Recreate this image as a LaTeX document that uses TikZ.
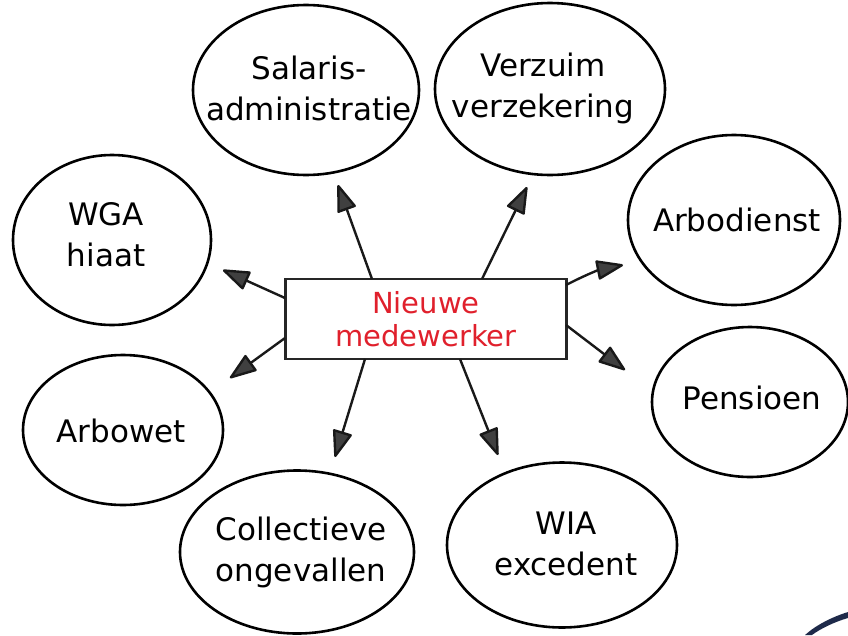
\documentclass[tikz,border=0pt]{standalone}
\usepackage{fontspec}
\setmainfont{DejaVu Sans}
\usetikzlibrary{shapes.geometric,arrows.meta}
\definecolor{titlered}{HTML}{E0202C}
\definecolor{navyblob}{HTML}{1E2A4A}
\begin{document}
\begin{tikzpicture}[x=1pt,y=-1pt,
  bubble/.style={ellipse, draw=black, line width=2.6pt, inner sep=0pt},
  bubtext/.style={inner sep=0pt, align=center, font=\fontsize{31}{41}\selectfont},
  centerbox/.style={rectangle, draw=black!85, line width=2.8pt,
    minimum width=281pt, minimum height=80pt, inner sep=0pt, align=center,
    text=titlered, font=\fontsize{29}{33}\selectfont},
  spoke/.style={line width=2.4pt, black!90,
    -{Triangle[length=29pt,width=20pt,fill=black!75,line join=round]}}]
\useasboundingbox (0,0) rectangle (848,635);
% center
\node[centerbox] (c) at (426,319) {Nieuwe\\medewerker};
% bubbles
\node[bubble, minimum width=226pt, minimum height=170pt] (sal) at (306,90) {};
\node[bubble, minimum width=230pt, minimum height=172pt] (ver) at (550,89) {};
\node[bubble, minimum width=198pt, minimum height=170pt] (wga) at (112,240) {};
\node[bubble, minimum width=212pt, minimum height=170pt] (arbod) at (734,220) {};
\node[bubble, minimum width=200pt, minimum height=150pt] (arbow) at (123,430) {};
\node[bubble, minimum width=196pt, minimum height=150pt] (pen) at (750,402) {};
\node[bubble, minimum width=234pt, minimum height=163pt] (col) at (297,552) {};
\node[bubble, minimum width=230pt, minimum height=165pt] (wia) at (562,545) {};
% bubble texts
\node[bubtext] (salt) at (309,88) {Salaris-\\administratie};
\node[bubtext] (vert) at (543,88) {Verzuim\\verzekering};
\node[bubtext] (wgat) at (106,235) {WGA\\hiaat};
\node[bubtext] (arbodt) at (737,220) {Arbodienst};
\node[bubtext] (arbowt) at (121,431) {Arbowet};
\node[bubtext] (pent) at (752,398) {Pensioen};
\node[bubtext] (colt) at (301,552) {Collectieve\\ongevallen};
\node[bubtext] (wiat) at (566,544) {WIA\\excedent};
% spoke start points on the box and free tips
\coordinate (s1) at (372,279); \coordinate (t1) at (338,185);
\coordinate (s2) at (482,279); \coordinate (t2) at (527,187);
\coordinate (s3) at (285,298); \coordinate (t3) at (223,270);
\coordinate (s4) at (285,338); \coordinate (t4) at (230,378);
\coordinate (s5) at (566,285); \coordinate (t5) at (623,265);
\coordinate (s6) at (566,325); \coordinate (t6) at (625,370);
\coordinate (s7) at (365,359); \coordinate (t7) at (335,457);
\coordinate (s8) at (460,359); \coordinate (t8) at (498,455);
\draw[spoke] (s1) -- (t1);
\draw[spoke] (s2) -- (t2);
\draw[spoke] (s3) -- (t3);
\draw[spoke] (s4) -- (t4);
\draw[spoke] (s5) to[bend left=8] (t5);
\draw[spoke] (s6) -- (t6);
\draw[spoke] (s7) -- (t7);
\draw[spoke] (s8) -- (t8);
% corner fragment
\fill[navyblob] (805,635) .. controls (816,625) and (832,617) .. (848,612) -- (848,618) .. controls (834,622) and (820,629) .. (812,635) -- cycle;
\end{tikzpicture}
\end{document}
